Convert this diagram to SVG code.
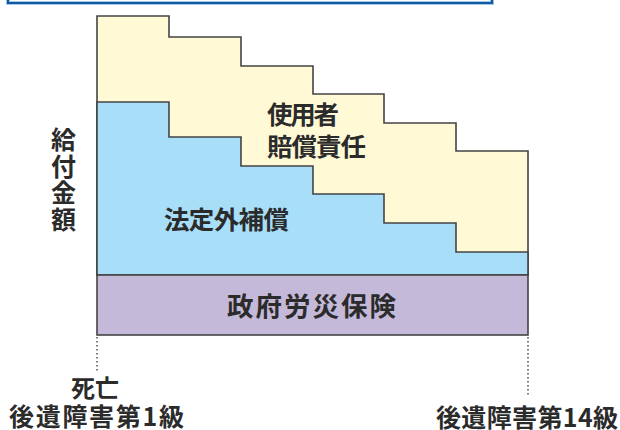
<svg xmlns="http://www.w3.org/2000/svg" width="620" height="430" viewBox="0 0 620 430">
  <style>
    .t { font-family: "Noto Sans CJK JP", "Noto Sans", sans-serif; fill: #2b2b2b; font-weight: bold; }
    .shape { stroke: #444; stroke-width: 1.6; stroke-linejoin: miter; }
    .dot { stroke: #444; stroke-width: 1.4; stroke-dasharray: 1.4 2.6; fill: none; }
  </style>
  <rect width="620" height="430" fill="#ffffff"/>
  <g id="frame">
    <path d="M8,-2 V3 H492 V-2" fill="none" stroke="#a9c8e8" stroke-width="4"/>
    <path d="M8,-2 V3 H492 V-2" fill="none" stroke="#0f5aa3" stroke-width="2.2"/>
  </g>
  <g id="employer">
    <path class="shape" fill="#fff9d6" d="M97,16 H169 V37 H241 V66 H313 V94 H384 V123 H456 V151 H528 V275 H97 Z"/>
    <text class="t" x="267" y="124" font-size="25.5" textLength="72" lengthAdjust="spacing">使用者</text>
    <text class="t" x="267" y="156" font-size="25.5" textLength="99" lengthAdjust="spacing">賠償責任</text>
  </g>
  <g id="extra">
    <path class="shape" fill="#a8def8" d="M97,102 H169 V137 H241 V166 H313 V194 H384 V223 H456 V252 H528 V275 H97 Z"/>
    <text class="t" x="164" y="229" font-size="25.5" textLength="125" lengthAdjust="spacing">法定外補償</text>
  </g>
  <g id="rousai">
    <rect class="shape" x="97" y="275" width="431" height="60" fill="#c5b9d9"/>
    <text class="t" x="227" y="316" font-size="26.5" textLength="169" lengthAdjust="spacing">政府労災保険</text>
  </g>
  <g id="yaxis">
    <text class="t" x="63.5" y="149" font-size="25" text-anchor="middle">給</text>
    <text class="t" x="63.5" y="175.5" font-size="25" text-anchor="middle">付</text>
    <text class="t" x="63.5" y="202" font-size="25" text-anchor="middle">金</text>
    <text class="t" x="63.5" y="229" font-size="25" text-anchor="middle">額</text>
  </g>
  <g id="connectors">
    <line class="dot" x1="97" y1="337" x2="97" y2="371"/>
    <line class="dot" x1="528" y1="337" x2="528" y2="397"/>
  </g>
  <g id="label-left">
    <text class="t" x="95" y="397" font-size="24" text-anchor="middle">死亡</text>
    <text class="t" x="9" y="426" font-size="25" textLength="175" lengthAdjust="spacing">後遺障害第1級</text>
  </g>
  <g id="label-right">
    <text class="t" x="436" y="427" font-size="25" textLength="182" lengthAdjust="spacing">後遺障害第14級</text>
  </g>
</svg>
